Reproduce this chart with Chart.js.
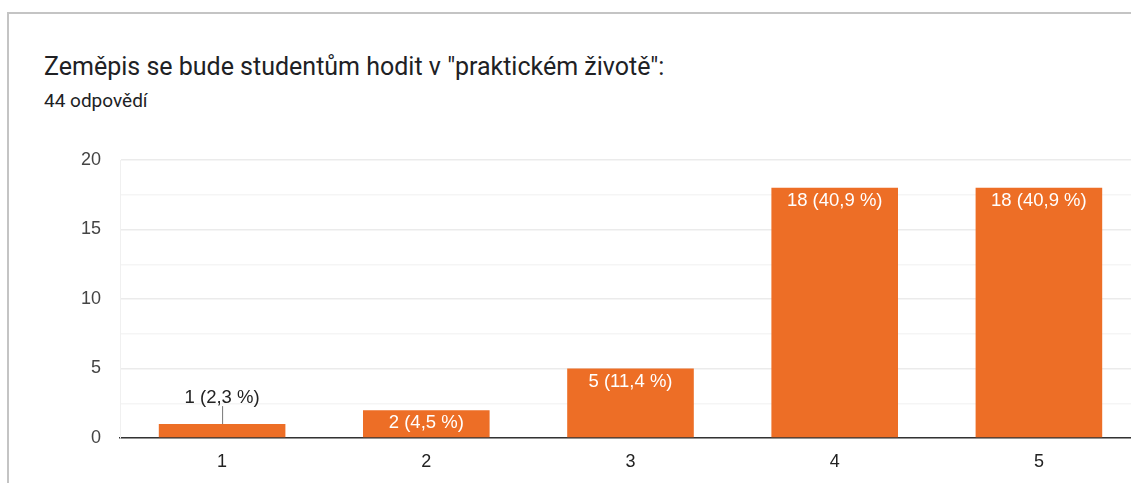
<!DOCTYPE html>
<html>
<head>
<meta charset="utf-8">
<script src="https://cdn.jsdelivr.net/npm/chart.js@4/dist/chart.umd.min.js"></script>
<style>
    html, body { margin: 0; padding: 0; background: #fff; overflow: hidden; width: 1131px; height: 483px; }
    .card { position: absolute; left: 7px; top: 12px; width: 1200px; height: 500px; border-top: 2px solid #c4c4c4; border-left: 2px solid #c4c4c4; }
    .title { position: absolute; left: 44px; top: 52px; font-family: Roboto, sans-serif; font-size: 25px; color: #202124; white-space: nowrap; }
    .subtitle { position: absolute; left: 44px; top: 89px; font-family: Roboto, sans-serif; font-size: 19px; color: #202124; white-space: nowrap; }
    .wrap { position: absolute; left: 0; top: 0; width: 1160px; height: 483px; }
</style>
</head>
<body>
<div class="card"></div>
<div class="title">Zeměpis se bude studentům hodit v "praktickém životě":</div>
<div class="subtitle">44 odpovědí</div>
<div class="wrap"><canvas id="chart"></canvas></div>
<script>
    const categories = ['1', '2', '3', '4', '5'];
    const counts = [1, 2, 5, 18, 18];
    const percents = ['2,3', '4,5', '11,4', '40,9', '40,9'];
    const yTicks = [0, 5, 10, 15, 20];

    const chartFont = '"Liberation Sans", Arial, sans-serif';

    // labels on the bars, with a leader line when the bar is too short
    const barLabels = {
        id: 'barLabels',
        afterDatasetsDraw(chart) {
            const ctx = chart.ctx;
            const meta = chart.getDatasetMeta(0);
            ctx.save();
            ctx.font = '18.5px ' + chartFont;
            ctx.textAlign = 'center';
            ctx.textBaseline = 'middle';
            meta.data.forEach((bar, i) => {
                const text = counts[i] + ' (' + percents[i] + ' %)';
                const h = bar.base - bar.y;
                if (h > 24) {
                    ctx.fillStyle = '#ffffff';
                    ctx.fillText(text, bar.x, bar.y + 13);
                } else {
                    ctx.strokeStyle = '#777777';
                    ctx.lineWidth = 1;
                    ctx.beginPath();
                    ctx.moveTo(bar.x + 0.5, bar.y);
                    ctx.lineTo(bar.x + 0.5, bar.y - 18);
                    ctx.stroke();
                    ctx.fillStyle = '#222222';
                    ctx.fillText(text, bar.x, bar.y - 26);
                }
            });
            ctx.restore();
        }
    };

    new Chart(document.getElementById('chart'), {
        type: 'bar',
        data: {
            labels: categories,
            datasets: [{
                data: counts,
                backgroundColor: '#ed6e26',
                borderWidth: 0,
                categoryPercentage: 1,
                barPercentage: 0.62
            }]
        },
        options: {
            responsive: true,
            maintainAspectRatio: false,
            animation: false,
            layout: { padding: { top: 160, right: 19, left: 0, bottom: 0 } },
            plugins: {
                legend: { display: false },
                tooltip: { enabled: false }
            },
            scales: {
                x: {
                    grid: { display: false, drawTicks: false },
                    border: { color: '#333333', width: 1.5 },
                    ticks: { color: '#222222', font: { family: chartFont, size: 18 }, padding: 13 },
                    afterFit(scale) { scale.height = 45; }
                },
                y: {
                    min: 0,
                    max: 20,
                    ticks: {
                        stepSize: 2.5,
                        color: '#444444',
                        font: { family: chartFont, size: 18 },
                        padding: 19,
                        callback: v => yTicks.includes(v) ? v : ''
                    },
                    grid: {
                        drawTicks: false,
                        color: ctx => (ctx.tick && yTicks.includes(ctx.tick.value)) ? '#ebebeb' : '#f5f5f5',
                        lineWidth: 1.5
                    },
                    border: { color: '#f0f0f0' },
                    afterFit(scale) { scale.width = 120; }
                }
            }
        },
        plugins: [barLabels]
    });
</script>
</body>
</html>
